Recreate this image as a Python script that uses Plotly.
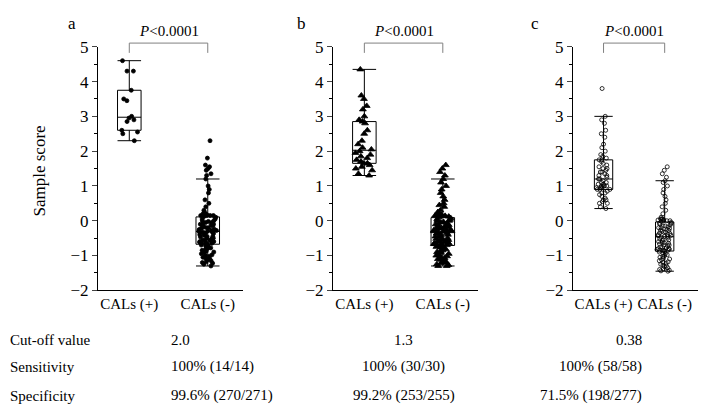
import plotly.graph_objects as go

FONT = "Liberation Serif"

groups = ["CALs (+)", "CALs (-)"]
panel_letters = ["a", "b", "c"]
cutoffs = ["2.0", "1.3", "0.38"]
sensitivity = ["100% (14/14)", "100% (30/30)", "100% (58/58)"]
specificity = ["99.6% (270/271)", "99.2% (253/255)", "71.5% (198/277)"]

a_pos = [4.6, 4.3, 4.3, 3.75, 3.5, 3.45, 3.0, 2.95, 2.9, 2.85, 2.6, 2.55, 2.5, 2.3]
a_neg = [2.3, 1.8, 1.6, 1.55, 1.5, 1.45, 1.35, 1.3, 1.2, 1.0, 0.9, 0.8, 0.6, 0.5,
         0.4, 0.3, 0.25, 0.2,
         0.2, 0.18, 0.15, 0.15, 0.15, 0.15, 0.12,
         0.1, 0.05, 0.05, 0.0, 0.0, -0.02, -0.05, -0.05, -0.08, -0.1, -0.1, -0.12,
         -0.15, -0.15, -0.18, -0.2, -0.2, -0.22, -0.25, -0.25, -0.27, -0.28, -0.3,
         -0.3, -0.3,
         -0.32, -0.33, -0.35, -0.35, -0.37, -0.4, -0.4, -0.42, -0.45, -0.45, -0.47,
         -0.5, -0.5, -0.52, -0.55, -0.55, -0.57, -0.6, -0.6, -0.6, -0.62, -0.63,
         -0.65, -0.65, -0.65,
         -0.7, -0.7, -0.72, -0.75, -0.78, -0.8, -0.82, -0.85, -0.88, -0.9, -0.92,
         -0.95, -0.98, -1.0, -1.02, -1.05, -1.08, -1.1, -1.12, -1.15, -1.18, -1.2,
         -1.22, -1.25, -1.3]
b_pos = [4.35, 3.6, 3.5, 3.3, 3.2, 3.0, 2.9, 2.85, 2.8, 2.6, 2.5, 2.3, 2.2, 2.1,
         2.05, 2.0, 1.95, 1.9, 1.85, 1.8, 1.75, 1.7, 1.65, 1.65, 1.6, 1.55, 1.5,
         1.45, 1.35, 1.3]
b_neg = [1.6, 1.5, 1.4, 1.3, 1.2, 1.1, 1.0, 0.9, 0.8, 0.7, 0.6, 0.5, 0.45, 0.4,
         0.3, 0.25, 0.2, 0.2,
         0.18, 0.17, 0.15, 0.15, 0.14, 0.12, 0.1,
         0.08, 0.05, 0.03, 0.0, 0.0, -0.03, -0.05, -0.07, -0.1, -0.1, -0.12, -0.15,
         -0.15, -0.18, -0.2, -0.2, -0.22, -0.24, -0.25, -0.27, -0.28, -0.3, -0.3,
         -0.3, -0.31,
         -0.33, -0.35, -0.37, -0.4, -0.4, -0.42, -0.45, -0.47, -0.5, -0.5, -0.52,
         -0.55, -0.55, -0.57, -0.6, -0.6, -0.62, -0.63, -0.65, -0.65, -0.67, -0.68,
         -0.7, -0.7, -0.7,
         -0.72, -0.75, -0.77, -0.8, -0.82, -0.85, -0.87, -0.9, -0.92, -0.95, -0.97,
         -1.0, -1.02, -1.05, -1.07, -1.1, -1.12, -1.15, -1.17, -1.2, -1.22, -1.25,
         -1.27, -1.3, -1.3]
c_pos = [3.8, 3.0, 2.9, 2.8, 2.6, 2.5, 2.4, 2.2, 2.1, 2.0, 1.9, 1.85, 1.8, 1.75,
         1.75, 1.7, 1.65, 1.6, 1.55, 1.5, 1.5, 1.45, 1.4, 1.4, 1.35, 1.3, 1.3,
         1.25, 1.2, 1.2, 1.15, 1.1, 1.1, 1.05, 1.0, 1.0, 0.95, 0.95, 0.9, 0.9,
         0.85, 0.8, 0.8, 0.75, 0.7, 0.65, 0.6, 0.6, 0.55, 0.5, 0.5, 1.0, 1.05,
         0.95, 1.0, 0.4, 0.35, 0.9]
c_neg = [1.55, 1.45, 1.35, 1.25, 1.15, 1.1, 1.0, 0.9, 0.8, 0.7, 0.6, 0.5, 0.4,
         0.3, 0.2, 0.1, 0.05, 0.05,
         0.05, 0.03, 0.02, 0.0, 0.0, 0.0, -0.02,
         -0.05, -0.07, -0.08, -0.1, -0.12, -0.15, -0.15, -0.18, -0.2, -0.2, -0.22,
         -0.25, -0.27, -0.28, -0.3, -0.32, -0.33, -0.35, -0.37, -0.4, -0.4, -0.42,
         -0.43, -0.45, -0.45,
         -0.47, -0.5, -0.52, -0.55, -0.55, -0.57, -0.6, -0.62, -0.63, -0.65, -0.67,
         -0.7, -0.7, -0.72, -0.75, -0.77, -0.78, -0.8, -0.8, -0.82, -0.83, -0.85,
         -0.85, -0.85, -0.86,
         -0.88, -0.9, -0.93, -0.95, -0.98, -1.0, -1.03, -1.05, -1.08, -1.1, -1.12,
         -1.15, -1.18, -1.2, -1.22, -1.25, -1.28, -1.3, -1.32, -1.35, -1.38, -1.4,
         -1.42, -1.44, -1.45]

panels = [(a_pos, a_neg, "circle"), (b_pos, b_neg, "triangle-up"), (c_pos, c_neg, "circle-open")]
x_domains = [[0.127, 0.332], [0.459, 0.664], [0.798, 0.975]]
x_ranges = [[-0.4, 1.45], [-0.4, 1.45], [-0.5, 1.55]]
row_y = [0.162, 0.095, 0.025]

fig = go.Figure()
for i, (pos, neg, sym) in enumerate(panels):
    xa = "x" if i == 0 else f"x{i + 1}"
    ya = "y" if i == 0 else f"y{i + 1}"
    for j, vals in enumerate([pos, neg]):
        fig.add_trace(go.Box(
            y=vals, x=[j] * len(vals), xaxis=xa, yaxis=ya,
            boxpoints="all", jitter=0.9, pointpos=0, width=0.3, whiskerwidth=1,
            fillcolor="rgba(0,0,0,0)", line=dict(color="black", width=1),
            marker=dict(symbol=sym, size=4 if sym != "triangle-up" else 6,
                        color="black", line=dict(color="black", width=0.8)),
            showlegend=False, hoverinfo="y"))

layout = dict(
    width=708, height=408, margin=dict(l=0, r=0, t=0, b=0),
    plot_bgcolor="white", paper_bgcolor="white",
    font=dict(family=FONT, size=17, color="black"),
)
for i in range(3):
    sx = "" if i == 0 else str(i + 1)
    layout["xaxis" + sx] = dict(
        domain=x_domains[i], range=x_ranges[i], tickvals=[0, 1], ticktext=groups,
        showline=True, linecolor="black", ticks="", showgrid=False, zeroline=False,
        anchor="y" + sx, tickfont=dict(size=15), automargin=False)
    layout["yaxis" + sx] = dict(
        domain=[0.308, 0.905], range=[-2, 5], dtick=1, showline=True,
        linecolor="black", ticks="outside", ticklen=5, showgrid=False,
        zeroline=False, anchor="x" + sx, automargin=False,
        minor=dict(dtick=0.5, ticks="outside", ticklen=3, tickcolor="black"))
fig.update_layout(**layout)

ann = []
shapes = []
for i in range(3):
    sx = "" if i == 0 else str(i + 1)
    for x0, x1, y0, y1 in [(0, 0, 0.89, 0.914), (0, 1, 0.914, 0.914), (1, 1, 0.914, 0.89)]:
        shapes.append(dict(type="line", xref="x" + sx, yref="paper", x0=x0, x1=x1,
                           y0=y0, y1=y1, line=dict(color="gray", width=1)))
    ann.append(dict(xref="x" + sx, yref="paper", x=0.5, y=0.918, yanchor="bottom",
                    text="<i>P</i><0.0001", showarrow=False, font=dict(size=15)))
    ann.append(dict(xref="paper", yref="paper", x=x_domains[i][0] - 0.045, y=0.99,
                    yanchor="top", text=panel_letters[i], showarrow=False,
                    font=dict(size=17)))
    cx = x_domains[i][0] + 0.1
    for row, txt in enumerate([cutoffs[i], sensitivity[i], specificity[i]]):
        ann.append(dict(xref="paper", yref="paper", x=cx, y=row_y[row],
                        text=txt, showarrow=False, font=dict(size=15)))
for row, txt in enumerate(["Cut-off value", "Sensitivity", "Specificity"]):
    ann.append(dict(xref="paper", yref="paper", x=0.0, xanchor="left",
                    y=row_y[row], text=txt, showarrow=False, font=dict(size=15)))
ann.append(dict(xref="paper", yref="paper", x=0.028, y=0.6, text="Sample score",
                textangle=-90, showarrow=False, font=dict(size=17)))
fig.update_layout(annotations=ann, shapes=shapes)

fig.write_html("out.html")
